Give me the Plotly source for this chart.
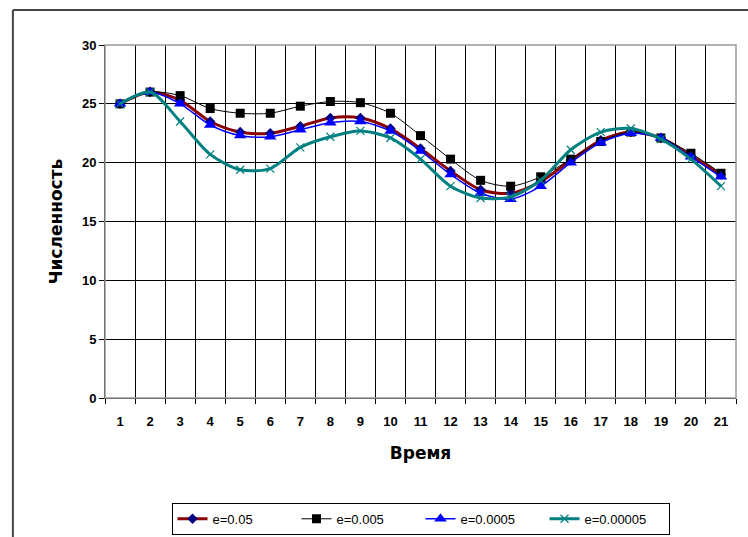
import plotly.graph_objects as go

# time steps (categories)
time = list(range(1, 22))

# population for each epsilon
e_05 = [25, 26, 25.3, 23.5, 22.6, 22.5, 23.1, 23.8, 23.8, 22.9, 21.2,
        19.3, 17.7, 17.4, 18.4, 20.2, 21.9, 22.6, 22.1, 20.6, 19.0]
e_005 = [25, 26, 25.7, 24.6, 24.2, 24.2, 24.8, 25.2, 25.1, 24.2, 22.3,
         20.3, 18.5, 18.0, 18.8, 20.3, 21.8, 22.6, 22.1, 20.8, 19.1]
e_0005 = [25, 26, 25.0, 23.2, 22.3, 22.2, 22.8, 23.4, 23.5, 22.7, 21.0,
          19.0, 17.4, 16.9, 18.0, 20.0, 21.7, 22.5, 22.1, 20.5, 18.8]
e_00005 = [25, 26, 23.5, 20.7, 19.4, 19.5, 21.3, 22.2, 22.7, 22.1, 20.3,
           18.0, 17.0, 17.1, 18.5, 21.1, 22.6, 22.9, 22.0, 20.3, 18.0]

names = ["e=0.05", "e=0.005", "e=0.0005", "e=0.00005"]

fig = go.Figure()
fig.add_trace(go.Scatter(x=time, y=e_05, name=names[0], mode="lines+markers",
                         line=dict(color="#8B0000", width=3, shape="spline", smoothing=0.8),
                         marker=dict(symbol="diamond", size=8, color="#000080")))
fig.add_trace(go.Scatter(x=time, y=e_005, name=names[1], mode="lines+markers",
                         line=dict(color="black", width=1, shape="spline", smoothing=0.8),
                         marker=dict(symbol="square", size=9, color="black")))
fig.add_trace(go.Scatter(x=time, y=e_0005, name=names[2], mode="lines+markers",
                         line=dict(color="#0000FF", width=1.5, shape="spline", smoothing=0.8),
                         marker=dict(symbol="triangle-up", size=11, color="#0000FF")))
fig.add_trace(go.Scatter(x=time, y=e_00005, name=names[3], mode="lines+markers",
                         line=dict(color="#008080", width=3, shape="spline", smoothing=0.8),
                         marker=dict(symbol="x-thin-open", size=8,
                                     line=dict(color="#008080", width=1.2))))

# outer chart border (only top and left are visible in the crop) + plot frame
fig.add_shape(type="line", xref="paper", yref="paper", x0=-0.146, x1=1.05, y0=1.099, y1=1.099,
              line=dict(color="#444", width=2))
fig.add_shape(type="line", xref="paper", yref="paper", x0=-0.146, x1=-0.146, y0=1.099, y1=-0.45,
              line=dict(color="#444", width=2))
fig.add_shape(type="rect", xref="paper", yref="paper", x0=0, x1=1, y0=0, y1=1,
              line=dict(color="#999", width=1.5), layer="above")

title_font = dict(family="DejaVu Sans", size=17, weight="bold")
tick_font = dict(family="Liberation Sans, Arial", size=13, weight="bold")

fig.update_layout(
    width=748, height=537,
    margin=dict(l=105, r=12, t=45, b=139, autoexpand=False),
    paper_bgcolor="white", plot_bgcolor="white",
    font=dict(family="Liberation Sans, Arial", color="black"),
    showlegend=True,
    legend=dict(orientation="h", x=0.5, xanchor="center", y=-0.297, yanchor="top",
                bordercolor="black", borderwidth=1, bgcolor="white",
                font=dict(size=13), entrywidth=79, entrywidthmode="pixels",
                tracegroupgap=0),
    xaxis=dict(
        range=[0.5, 21.5], tickvals=time, ticktext=[str(t) for t in time],
        showgrid=False, ticks="", showline=True, linecolor="black", linewidth=1,
        tickfont=tick_font, ticklabelstandoff=11,
        title=dict(text="Время", font=title_font, standoff=19),
        minor=dict(tick0=0.5, dtick=1, showgrid=True, gridcolor="black", gridwidth=1.3,
                   ticks="outside", ticklen=5, tickcolor="black"),
        zeroline=False, automargin=False,
    ),
    yaxis=dict(
        range=[0, 30], dtick=5, showgrid=True, gridcolor="black", gridwidth=1.3,
        ticks="outside", ticklen=5, tickcolor="black",
        showline=True, linecolor="black", linewidth=1,
        tickfont=tick_font,
        title=dict(text="Численность", font=title_font, standoff=14),
        zeroline=False, automargin=False,
    ),
)

fig.write_html("out.html", config={"displayModeBar": False},
               post_script="document.body.style.margin='0px';")
